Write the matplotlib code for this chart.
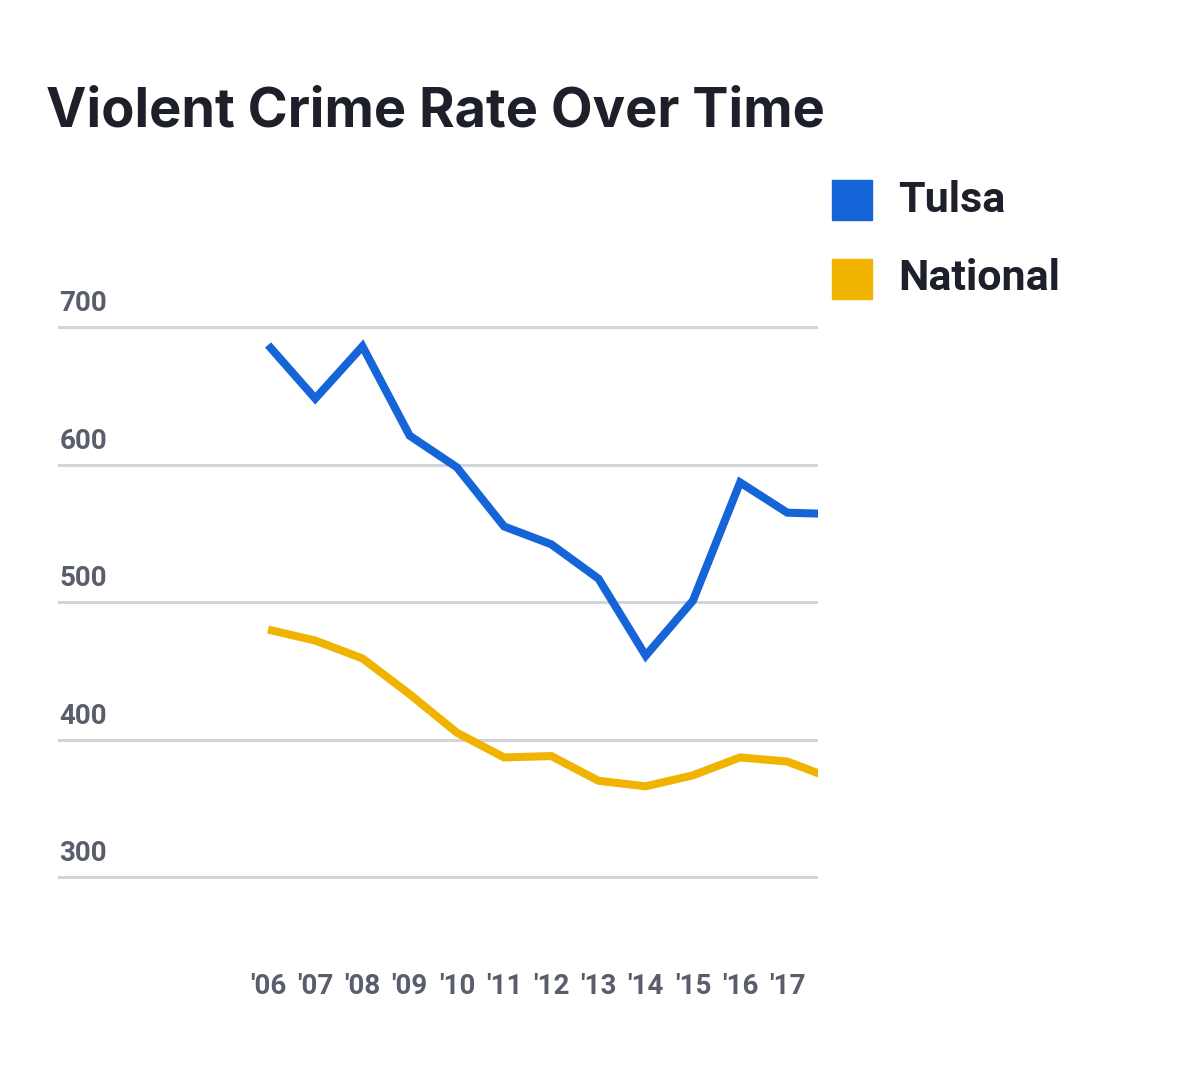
import matplotlib.pyplot as plt
from matplotlib.transforms import Bbox, TransformedBbox

# data
years = ["'06", "'07", "'08", "'09", "'10", "'11", "'12", "'13", "'14", "'15", "'16", "'17", "'18"]
tulsa = [687, 648, 686, 621, 598, 555, 542, 517, 461, 501, 587, 565, 564]
national = [480, 472, 459, 433, 405, 387, 388, 370, 366, 374, 387, 384, 371]
y_ticks = [300, 400, 500, 600, 700]

blue = '#1565d8'
yellow = '#f0b400'
dark = '#1d1f2a'
grey = '#5a5e6c'

fig = plt.figure(figsize=(12, 10.78), dpi=100)
ax = fig.add_axes([58 / 1200, 0.1609, 760 / 1200, 0.5612])

x = list(range(len(years)))
ax.plot(x, tulsa, color=blue, linewidth=5.8, solid_capstyle='butt', solid_joinstyle='miter', zorder=3)
ax.plot(x, national, color=yellow, linewidth=5.8, solid_capstyle='butt', solid_joinstyle='miter', zorder=3)

for s in ax.spines.values():
    s.set_visible(False)
ax.set_yticks([])
ax.set_xticks(x)
ax.set_xticklabels(years, fontsize=20, fontweight='bold', family='Roboto', color=grey)
ax.tick_params(axis='x', length=0, pad=49)

# limits after set_xticks, which would widen them
ax.set_xlim(-4.45, 11.65)
ax.set_ylim(280, 720)

# grid lines with labels sitting above them
for v in y_ticks:
    ax.axhline(v, color='#d3d5dc', linewidth=2.2, zorder=1)
    ax.text(-4.42, v + 17, str(v), fontsize=20, fontweight='bold', family='Roboto',
            color=grey, ha='left', va='center')

# last label is cut at the plot edge, as in the original
clip = TransformedBbox(Bbox([[0, 0], [824 / 1200, 1]]), fig.transFigure)
for lab in ax.get_xticklabels():
    lab.set_clip_on(True)
    lab.set_clip_box(clip)

fig.text(46 / 1200, 1 - 112 / 1078, 'Violent Crime Rate Over Time', fontsize=39,
         fontweight='bold', family='Inter', color=dark, ha='left', va='center')

# legend
for i, (name, col) in enumerate([('Tulsa', blue), ('National', yellow)]):
    yc = 200 + i * 79
    fig.patches.append(plt.Rectangle((832 / 1200, 1 - (yc + 20) / 1078), 40 / 1200, 40 / 1078,
                                     transform=fig.transFigure, color=col, figure=fig))
    fig.text(898 / 1200, 1 - yc / 1078, name, fontsize=31, fontweight='bold', family='Roboto',
             color=dark, ha='left', va='center')

plt.savefig('out.png')
